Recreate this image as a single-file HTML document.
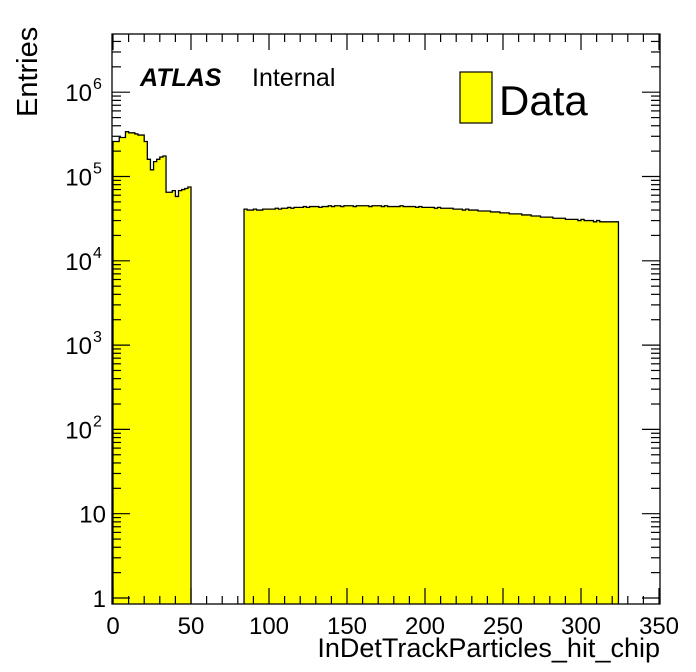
<!DOCTYPE html>
<html><head><meta charset="utf-8"><style>body{margin:0;background:#fff}svg{display:block}text{font-family:"Liberation Sans",sans-serif}</style></head>
<body>
<svg id="c" width="696" height="672"></svg>
<script>
const binWidth = 2;
const region1Start = 0;
const region1Values = [2.6e5,2.6e5,2.9e5,2.9e5,3.4e5,3.3e5,3.3e5,3.2e5,3.1e5,3.1e5,2.6e5,1.6e5,1.2e5,1.5e5,1.6e5,1.7e5,1.75e5,6.5e4,6.5e4,6.8e4,5.8e4,6.8e4,7.0e4,7.2e4,7.5e4];
const region2Start = 84;
const region2K = [41,40,40,41,40,40,41,41,
41,41,42,41,42,42,43,42,43,43,
43,44,43,44,44,44,43,44,44,45,
44,45,45,44,45,45,45,44,45,45,
45,45,44,45,45,45,44,45,44,44,
44,44,45,44,44,44,44,43,44,43,
43,43,43,42,43,42,42,42,42,41,
41,41,40,41,40,40,40,39,39,39,
39,38,38,38,37,37,37,36,36,36,
36,35,35,35,34,34,34,33,33,33,
33,32,32,32,32,31,31,31,31,30,
31,30,30,30,29,30,29,29,29,29,29,29];
const xTicks = [0,50,100,150,200,250,300,350];
const yDecades = [0,1,2,3,4,5,6];
const yLabels = ["1","10","10","10","10","10","10"];
const ySup = ["","","2","3","4","5","6"];

const NS="http://www.w3.org/2000/svg";
const svg=document.getElementById('c');
const L=112,R=660,T=34,B=604;
const X=v=>113+v*(659-113)/350;
const Y=v=>598-84.3*Math.log10(v);
function mk(t,a,p){const e=document.createElementNS(NS,t);for(const k in a)e.setAttribute(k,a[k]);(p||svg).appendChild(e);return e;}
function drawRegion(start,vals,name){
  let d=`M${X(start)},${B}`;
  vals.forEach((v,i)=>{const x0=X(start+i*binWidth),x1=X(start+(i+1)*binWidth);d+=` L${x0},${Y(v)} L${x1},${Y(v)}`;});
  d+=` L${X(start+vals.length*binWidth)},${B}`;
  const p=mk('path',{d:d+' Z',fill:'#ffff00',stroke:'none'});
  
  
  const s=mk('path',{d:d,fill:'none',stroke:'#000','stroke-width':1.3});
  
  
}
drawRegion(region1Start,region1Values,'histogram-region-1');
drawRegion(region2Start,region2K.map(v=>v*1000),'histogram-region-2');
const f=mk('rect',{x:L,y:T,width:R-L,height:B-T,fill:'none',stroke:'#000','stroke-width':1.3});


const g=mk('g',{stroke:'#000','stroke-width':1.2});


for(let v=0;v<=350;v+=10){const x=X(v),len=v%50==0?16:8;
  mk('line',{x1:x,y1:B,x2:x,y2:B-len},g);mk('line',{x1:x,y1:T,x2:x,y2:T+len},g);}
for(let dcd=0;dcd<=6;dcd++){for(let m=1;m<10;m++){const v=m*Math.pow(10,dcd),y=Y(v);if(y<T)continue;const len=m==1?18:9;
  mk('line',{x1:L,y1:y,x2:L+len,y2:y},g);mk('line',{x1:R,y1:y,x2:R-len,y2:y},g);}}
xTicks.forEach(v=>{const t=mk('text',{x:X(v),y:634,'font-size':24,'text-anchor':'middle'});t.textContent=v;
  
  });
yDecades.forEach((d,i)=>{const y=Y(Math.pow(10,d));
  const t=mk('text',{x:ySup[i]?92:106,y:y+9,'font-size':24,'text-anchor':'end'});t.textContent=yLabels[i];
  
  
  if(ySup[i]){const s=mk('text',{x:93,y:y-3,'font-size':16});s.textContent=ySup[i];
    
    }});
</script>
<svg width="696" height="672" style="position:absolute;left:0;top:0">
<text x="660" y="657" font-size="27" text-anchor="end">InDetTrackParticles_hit_chip</text>
<text transform="translate(37,117) rotate(-90)" font-size="29">Entries</text>
<text x="140" y="86" font-size="25" font-weight="bold" font-style="italic">ATLAS</text>
<text x="252" y="86" font-size="25">Internal</text>
<rect x="460" y="72" width="32" height="51" fill="#ffff00" stroke="#000" stroke-width="1.2"/>
<text x="499" y="115" font-size="42">Data</text>
</svg>
</body></html>
